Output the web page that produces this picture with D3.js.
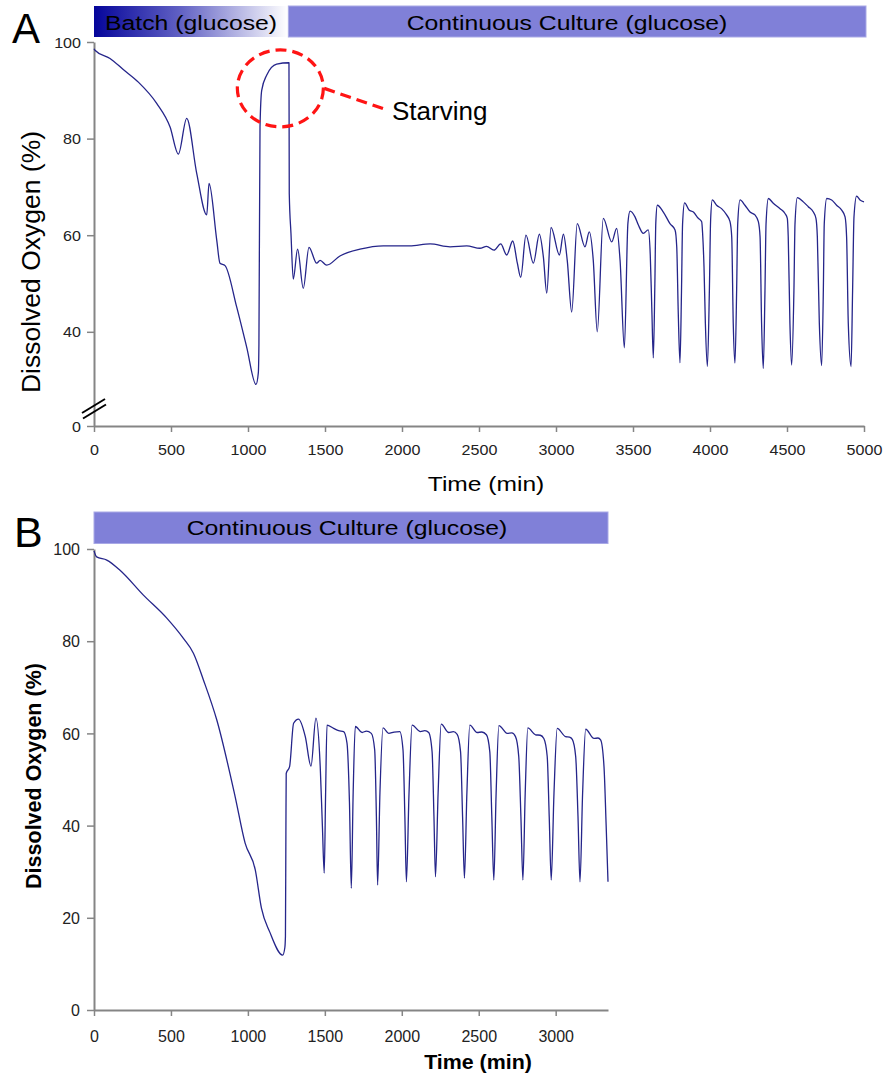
<!DOCTYPE html>
<html>
<head>
<meta charset="utf-8">
<script src="https://cdn.jsdelivr.net/npm/d3@7"></script>
<style>
  html, body { margin: 0; padding: 0; background: #ffffff; }
  svg { display: block; }
  text { font-family: Arial, "Liberation Sans", sans-serif; }
</style>
</head>
<body>
<svg id="chart" width="884" height="1078"></svg>
<script>
// ---------------- DATA ----------------
// Panel A: dissolved oxygen (%) vs time (min)
const aTime = [0,6,104,190,288,407,494,548,602,667,732,747,797,818,851,926,991,1052,1067,1071,1078,1089,1121,1186,1266,1268,1279,1294,1322,1359,1396,1446,1468,1511,1597,1727,1879,2050,2182,2312,2420,2506,2549,2597,2641,2680,2719,2749,2771,2805,2853,2892,2918,2940,2968,3022,3048,3073,3102,3138,3188,3216,3242,3268,3307,3362,3394,3416,3444,3467,3481,3513,3535,3567,3599,3612,3622,3632,3642,3648,3658,3697,3740,3773,3784,3794,3805,3815,3822,3835,3864,3892,3924,3946,3952,3961,3970,3983,3996,4004,4015,4043,4075,4108,4130,4141,4151,4162,4173,4180,4195,4227,4260,4292,4314,4325,4335,4346,4357,4364,4379,4411,4455,4487,4502,4508,4519,4530,4545,4552,4567,4606,4638,4671,4688,4697,4710,4725,4736,4742,4758,4790,4822,4855,4877,4887,4898,4916,4926,4935,4952,4974,5000];
const aDO   = [98.6,98.3,96.6,94.3,91.7,87.3,82.4,76.8,84.2,72.8,64.2,70.7,59.0,54.2,53.7,45.2,36.9,29.1,31.5,37.6,82.4,90.0,93.1,95.4,95.7,68.6,60.4,50.9,57.1,49.0,57.5,54.2,54.8,53.8,55.7,57.1,57.8,57.8,58.2,57.6,57.8,57.3,57.7,56.9,58.2,55.9,58.8,54.2,51.3,60.0,54.2,60.2,55.5,48.0,61.6,55.9,60.2,54.8,44.1,62.4,57.6,60.7,54.8,40.0,63.5,58.6,61.4,54.8,36.7,62.5,65.0,63.8,62.1,60.4,61.1,56.0,45.0,34.6,50.0,62.5,66.2,64.8,62.4,61.1,57.6,43.8,33.6,48.6,62.4,66.7,65.2,64.8,63.5,62.8,60.4,53.5,41.7,32.8,48.6,63.1,67.3,66.2,65.5,64.2,62.8,59.7,41.7,33.5,48.6,62.4,67.3,66.2,64.8,64.2,62.8,59.7,41.7,32.4,48.6,62.4,67.6,66.6,65.5,64.5,63.5,59.7,41.7,33.1,48.6,62.4,67.8,66.9,65.9,64.8,63.5,59.7,41.7,33.0,48.6,62.4,67.6,67.3,66.2,65.2,63.8,59.7,41.7,32.8,48.6,63.8,68.1,67.3,66.9];

// Panel B
const bTime = [0,17,83,169,321,473,581,646,711,798,917,982,1048,1088,1141,1226,1240,1244,1247,1249,1271,1297,1329,1373,1410,1442,1470,1484,1496,1505,1514,1557,1590,1622,1644,1660,1672,1684,1698,1742,1770,1802,1824,1835,1843,1858,1878,1915,1950,1987,2008,2020,2030,2047,2067,2121,2150,2175,2197,2209,2219,2236,2256,2305,2335,2360,2382,2395,2407,2423,2442,2490,2520,2550,2572,2585,2598,2613,2631,2685,2715,2739,2760,2774,2787,2802,2819,2869,2900,2923,2945,2958,2971,2989,3010,3064,3090,3108,3130,3145,3158,3175,3195,3249,3275,3292,3314,3328,3340];
const bDO   = [99.6,98.3,97.6,95.4,90.0,85.0,80.6,77.4,71.6,62.9,46.3,36.2,30.4,22.1,17.0,11.9,13.5,16.0,39.0,51.3,52.8,62.2,63.1,59.3,52.9,63.3,52.8,40.0,29.7,47.0,61.8,61.1,60.6,60.4,57.9,45.0,26.4,47.0,61.5,60.2,60.5,60.0,56.4,42.0,27.1,47.0,61.2,60.0,60.3,60.4,56.4,42.0,27.8,47.0,61.8,60.4,60.6,60.2,56.0,42.0,28.9,47.0,62.0,60.2,60.4,59.8,56.0,42.0,28.6,47.0,61.8,60.2,60.3,59.7,56.0,42.0,28.2,47.0,61.7,60.0,60.1,59.3,55.0,42.0,28.2,47.0,61.2,59.7,59.6,58.9,55.0,42.0,28.2,47.0,61.1,59.3,59.2,58.7,55.0,42.0,27.8,47.0,60.9,58.9,59.0,58.6,52.8,40.0,27.8];

// Axes ticks
const aXTicks = [0,500,1000,1500,2000,2500,3000,3500,4000,4500,5000];
const aYTicks = [20.5,40,60,80,100];          // lowest tick is the broken-axis "0"
const aYTickLabels = ["0","40","60","80","100"];
const bXTicks = [0,500,1000,1500,2000,2500,3000];
const bYTicks = [0,20,40,60,80,100];

// Phase bars
const aPhaseLabels = ["Batch (glucose)", "Continuous Culture (glucose)"];
const aPhaseStart = [0, 1262];
const aPhaseEnd   = [1258, 5013];
const bPhaseLabels = ["Continuous Culture (glucose)"];
const bPhaseStart = [0];
const bPhaseEnd   = [3340];

// Annotation
const starvingLabel = "Starving";
const starvingT = 1210, starvingV = 90.4;

// ---------------- DRAWING ----------------
const svg = d3.select("#chart");
svg.append("rect").attr("width", 884).attr("height", 1078).attr("fill", "#fff");

const axisColor = "#858585";
const lineColor = "#25258a";
const contColor = "#8080d8";

function stext(g, x, y, str, size, sx, anchor, weight) {
  return g.append("text")
    .attr("transform", `translate(${x},${y}) scale(${sx},1)`)
    .attr("text-anchor", anchor || "start")
    .attr("font-size", size)
    .attr("font-weight", weight || "normal")
    .attr("fill", "#000")
    .text(str);
}

function drawAxes(x, y, o) {
  const y0 = y.range()[0];
  const gx = svg.append("g").attr("transform", `translate(0,${y0})`)
    .call(d3.axisBottom(x).tickValues(o.xTicks).tickSize(6).tickSizeOuter(0).tickFormat(d3.format("d")));
  gx.select(".domain").attr("stroke", axisColor).attr("stroke-width", 2);
  gx.selectAll(".tick line").attr("stroke", axisColor).attr("stroke-width", 1.5);
  gx.selectAll(".tick text")
    .attr("y", null).attr("dy", null)
    .attr("transform", `translate(0,${o.xLabOff}) scale(${o.sx},1)`)
    .attr("font-family", "Arial, 'Liberation Sans', sans-serif")
    .attr("font-size", o.tickSize).attr("fill", "#222");

  const x0 = x.range()[0];
  const gy = svg.append("g").attr("transform", `translate(${x0},0)`)
    .call(d3.axisLeft(y).tickValues(o.yTicks).tickSize(7).tickSizeOuter(0)
      .tickFormat((d, i) => o.yLabels ? o.yLabels[i] : d3.format("d")(d)));
  gy.select(".domain").attr("stroke", axisColor).attr("stroke-width", 2);
  gy.selectAll(".tick line").attr("stroke", axisColor).attr("stroke-width", 1.5);
  gy.selectAll(".tick text")
    .attr("x", null).attr("dy", null)
    .attr("transform", `translate(${o.yLabOff},${o.tickSize * 0.36}) scale(${o.sx},1)`)
    .attr("font-family", "Arial, 'Liberation Sans', sans-serif")
    .attr("font-size", o.tickSize).attr("fill", "#222");
}

// ===== Panel A =====
const xA = d3.scaleLinear().domain([0, 5000]).range([94, 864]);
const yA = d3.scaleLinear().domain([20.5, 100]).range([426, 42]);

// phase bars
const defs = svg.append("defs");
const grad = defs.append("linearGradient").attr("id", "batchGrad").attr("x1", "0%").attr("x2", "100%");
grad.append("stop").attr("offset", "0%").attr("stop-color", "#05059a");
grad.append("stop").attr("offset", "45%").attr("stop-color", "#6262c4");
grad.append("stop").attr("offset", "100%").attr("stop-color", "#ffffff");

svg.append("rect").attr("x", xA(aPhaseStart[0])).attr("y", 6)
  .attr("width", xA(aPhaseEnd[0]) - xA(aPhaseStart[0])).attr("height", 31)
  .attr("fill", "url(#batchGrad)");
svg.append("rect").attr("x", xA(aPhaseStart[1])).attr("y", 6)
  .attr("width", xA(aPhaseEnd[1]) - xA(aPhaseStart[1])).attr("height", 31)
  .attr("fill", contColor).attr("stroke", "#a9a9e6").attr("stroke-width", 1);
stext(svg, 105, 30, aPhaseLabels[0], 21, 1.18, "start");
stext(svg, 567, 30, aPhaseLabels[1], 21, 1.18, "middle");

drawAxes(xA, yA, {xTicks: aXTicks, yTicks: aYTicks, yLabels: aYTickLabels,
  tickSize: 14, sx: 1.15, xLabOff: 28.5, yLabOff: -13});

// axis break marks
svg.append("line").attr("x1", 82).attr("y1", 413).attr("x2", 105).attr("y2", 399)
  .attr("stroke", "#000").attr("stroke-width", 2);
svg.append("line").attr("x1", 83).attr("y1", 418.5).attr("x2", 106).attr("y2", 404.5)
  .attr("stroke", "#000").attr("stroke-width", 2);

const lineA = d3.line().curve(d3.curveMonotoneX).x((d, i) => xA(aTime[i])).y(d => yA(d));
svg.append("path").datum(aDO).attr("d", lineA)
  .attr("fill", "none").attr("stroke", lineColor).attr("stroke-width", 1.3)
  .attr("stroke-linejoin", "round");

// starving annotation
const cx = xA(starvingT), cy = yA(starvingV);
svg.append("ellipse").attr("cx", cx).attr("cy", cy).attr("rx", 43).attr("ry", 38.5)
  .attr("fill", "none").attr("stroke", "#ff1414").attr("stroke-width", 3.2)
  .attr("stroke-dasharray", "11,6");
svg.append("line").attr("x1", cx + 44).attr("y1", cy).attr("x2", cx + 108).attr("y2", cy + 22)
  .attr("stroke", "#ff1414").attr("stroke-width", 3.2).attr("stroke-dasharray", "11,6");
stext(svg, 392, 120, starvingLabel, 26, 1, "start");

// titles
stext(svg, 12, 43, "A", 42, 1, "start");
svg.append("text").attr("transform", "translate(40,262) rotate(-90)")
  .attr("text-anchor", "middle").attr("font-size", 26.5).text("Dissolved Oxygen (%)");
stext(svg, 486, 491, "Time (min)", 19.5, 1.26, "middle");

// ===== Panel B =====
const xB = d3.scaleLinear().domain([0, 3340]).range([94, 608]);
const yB = d3.scaleLinear().domain([0, 100]).range([1010, 549]);

svg.append("rect").attr("x", xB(bPhaseStart[0])).attr("y", 512)
  .attr("width", xB(bPhaseEnd[0]) - xB(bPhaseStart[0])).attr("height", 31.5)
  .attr("fill", contColor).attr("stroke", "#a9a9e6").attr("stroke-width", 1);
stext(svg, 347, 535, bPhaseLabels[0], 21, 1.18, "middle");

drawAxes(xB, yB, {xTicks: bXTicks, yTicks: bYTicks, yLabels: null,
  tickSize: 16, sx: 1.0, xLabOff: 31.5, yLabOff: -14});

const lineB = d3.line().curve(d3.curveMonotoneX).x((d, i) => xB(bTime[i])).y(d => yB(d));
svg.append("path").datum(bDO).attr("d", lineB)
  .attr("fill", "none").attr("stroke", lineColor).attr("stroke-width", 1.3)
  .attr("stroke-linejoin", "round");

stext(svg, 14, 547, "B", 43, 1, "start");
svg.append("text").attr("transform", "translate(41,776) rotate(-90)")
  .attr("text-anchor", "middle").attr("font-size", 21.5).attr("font-weight", "bold")
  .text("Dissolved Oxygen (%)");
stext(svg, 478, 1069, "Time (min)", 20, 1.07, "middle", "bold");
</script>
</body>
</html>
